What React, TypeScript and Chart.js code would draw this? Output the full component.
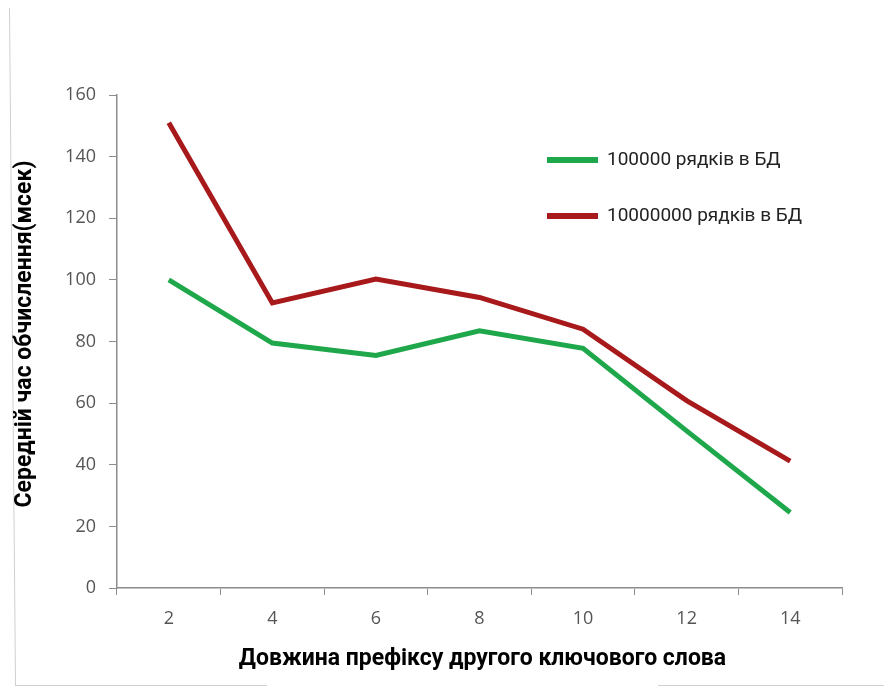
import React, { useEffect, useRef } from "react";
import { Chart, registerables } from "chart.js";

Chart.register(...registerables);

const categories = ["2", "4", "6", "8", "10", "12", "14"];
const series100k = [100, 79.5, 75.5, 83.5, 77.8, 51, 24.5];
const series10m = [151, 92.5, 100.3, 94.3, 84, 60.8, 41.2];
const seriesNames = ["100000 рядків в БД", "10000000 рядків в БД"];
const xTitle = "Довжина префіксу другого ключового слова";
const yTitle = "Середній час обчислення(мсек)";
const yMin = 0;
const yMax = 160;
const yStep = 20;

const GREEN = "#1fa84b";
const RED = "#a8191b";
const AXIS = "#8c8c8c";

const decorPlugin = {
  id: "decor",
  afterDraw(chart: any) {
    const ctx = chart.ctx as CanvasRenderingContext2D;
    const area = chart.chartArea;
    ctx.save();
    // frame fragments
    ctx.strokeStyle = "#d0d0d0";
    ctx.lineWidth = 1;
    ctx.beginPath();
    ctx.moveTo(9.5, 8);
    ctx.lineTo(15.5, 685);
    ctx.moveTo(15, 685.5);
    ctx.lineTo(267, 685.5);
    ctx.moveTo(658, 685.5);
    ctx.lineTo(884, 685.5);
    ctx.stroke();

    // axis titles
    ctx.fillStyle = "#000";
    ctx.font = "bold 23px Roboto";
    ctx.textAlign = "center";
    ctx.textBaseline = "middle";
    ctx.fillText(xTitle, (area.left + area.right) / 2 + 3, 659);
    ctx.save();
    ctx.translate(25, 334);
    ctx.rotate(-Math.PI / 2);
    ctx.fillText(yTitle, 0, 0);
    ctx.restore();

    // legend
    const colors = [GREEN, RED];
    const ys = [160, 216];
    ctx.font = "19px Roboto";
    ctx.textAlign = "left";
    seriesNames.forEach((name, i) => {
      ctx.strokeStyle = colors[i];
      ctx.lineWidth = 6;
      ctx.beginPath();
      ctx.moveTo(547, ys[i]);
      ctx.lineTo(598, ys[i]);
      ctx.stroke();
      ctx.fillStyle = "#222";
      ctx.fillText(name, 607, ys[i]);
    });
    ctx.restore();
  },
};

export default function App() {
  const ref = useRef<HTMLCanvasElement | null>(null);
  useEffect(() => {
    if (!ref.current) return;
    const chart = new Chart(ref.current, {
      type: "line",
      data: {
        labels: categories,
        datasets: [
          {
            label: seriesNames[0],
            data: series100k,
            borderColor: GREEN,
            backgroundColor: GREEN,
            borderWidth: 5,
            pointRadius: 0,
            tension: 0,
            fill: false,
          },
          {
            label: seriesNames[1],
            data: series10m,
            borderColor: RED,
            backgroundColor: RED,
            borderWidth: 5,
            pointRadius: 0,
            tension: 0,
            fill: false,
          },
        ],
      },
      options: {
        animation: false,
        responsive: false,
        maintainAspectRatio: false,
        layout: { padding: { left: 0, top: 95, right: 42, bottom: 0 } },
        plugins: {
          legend: { display: false },
          tooltip: { enabled: false },
          title: { display: false },
        },
        scales: {
          x: {
            type: "category",
            offset: true,
            grid: {
              offset: true,
              drawOnChartArea: false,
              drawTicks: true,
              tickLength: 7,
              color: AXIS,
            },
            border: { display: true, color: AXIS, width: 1.5 },
            ticks: {
              color: "#555",
              font: { family: "Open Sans", size: 18 },
              padding: 13,
              maxRotation: 0,
            },
            afterFit: (s: any) => {
              s.height = 98;
            },
          },
          y: {
            min: yMin,
            max: yMax,
            grid: {
              drawOnChartArea: false,
              drawTicks: true,
              tickLength: 8,
              color: AXIS,
            },
            border: { display: true, color: AXIS, width: 1.5 },
            ticks: {
              stepSize: yStep,
              color: "#555",
              font: { family: "Open Sans", size: 18 },
              padding: 13,
            },
            afterFit: (s: any) => {
              s.width = 117;
            },
          },
        },
      },
      plugins: [decorPlugin],
    });
    return () => chart.destroy();
  }, []);
  return (
    <div style={{ position: "fixed", left: 0, top: 0, width: 884, height: 686, background: "#fff" }}>
      <canvas ref={ref} width={884} height={686} style={{ width: 884, height: 686, display: "block" }} />
    </div>
  );
}
